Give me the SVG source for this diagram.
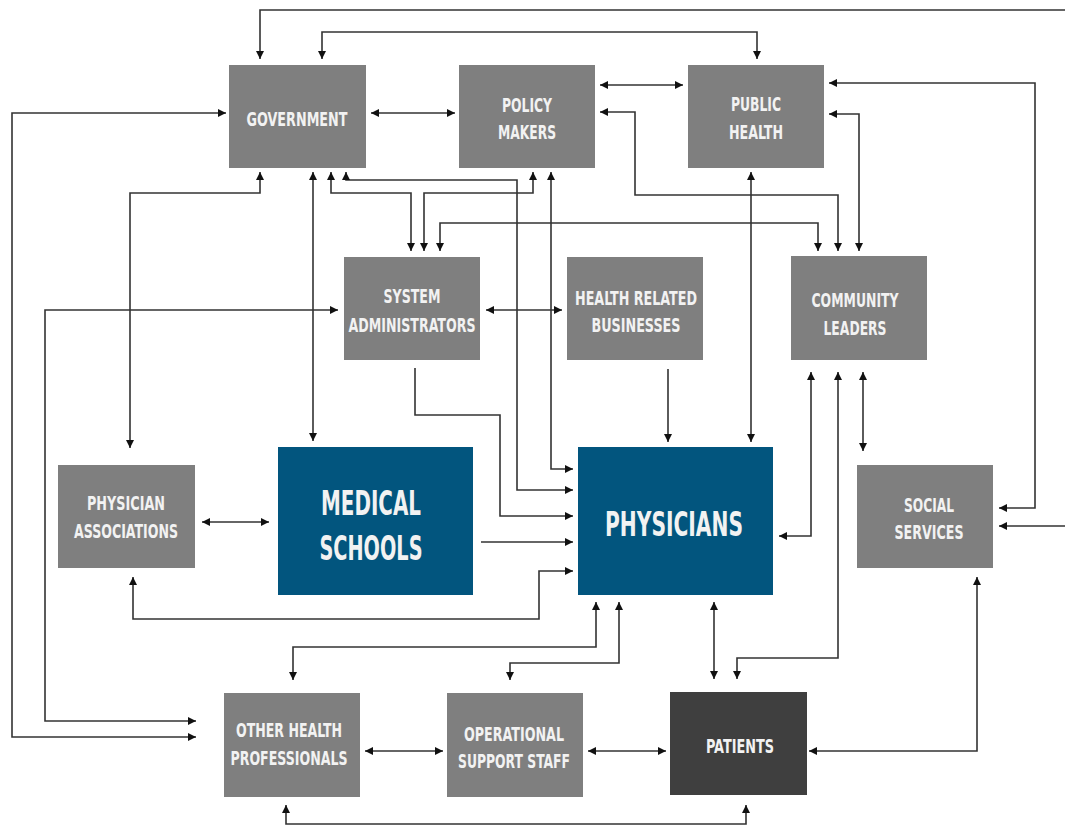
<svg xmlns="http://www.w3.org/2000/svg" width="1065" height="826" viewBox="0 0 1065 826">
<style>
.box{fill:#7f7f7f}
.blue{fill:#02557e}
.dark{fill:#3f3f3f}
.t{font-family:"DejaVu Sans Condensed","DejaVu Sans","Liberation Sans",sans-serif;font-weight:bold;font-size:20px;fill:#f2f2f2;text-anchor:middle}
.tb{font-size:34px}
.c{fill:none;stroke:#333;stroke-width:1.6}
</style>
<defs>
<marker id="a" viewBox="0 0 8 8" refX="8" refY="4" markerWidth="8" markerHeight="8" markerUnits="userSpaceOnUse" orient="auto-start-reverse">
<path d="M0,0 L8,4 L0,8 z" fill="#111"/>
</marker>
</defs>
<rect width="1065" height="826" fill="#fff"/>
<g id="connectors">
<path class="c" d="M999,526 H1072 V10 H260 V59" marker-start="url(#a)" marker-end="url(#a)"/>
<path class="c" d="M322,59 V32 H757 V59" marker-start="url(#a)" marker-end="url(#a)"/>
<path class="c" d="M371,113 H455" marker-start="url(#a)" marker-end="url(#a)"/>
<path class="c" d="M600,85 H683" marker-start="url(#a)" marker-end="url(#a)"/>
<path class="c" d="M600,112 H635 V195 H838 V251" marker-start="url(#a)" marker-end="url(#a)"/>
<path class="c" d="M829,83 H1035 V508 H999" marker-start="url(#a)" marker-end="url(#a)"/>
<path class="c" d="M829,114 H859 V251" marker-start="url(#a)" marker-end="url(#a)"/>
<path class="c" d="M260,172 V193 H130 V448" marker-start="url(#a)" marker-end="url(#a)"/>
<path class="c" d="M313,172 V441" marker-start="url(#a)" marker-end="url(#a)"/>
<path class="c" d="M331,172 V193 H411 V251" marker-start="url(#a)" marker-end="url(#a)"/>
<path class="c" d="M346,172 V180 H517 V490 H573" marker-start="url(#a)" marker-end="url(#a)"/>
<path class="c" d="M533,172 V193 H424 V251" marker-start="url(#a)" marker-end="url(#a)"/>
<path class="c" d="M551,172 V469 H573" marker-start="url(#a)" marker-end="url(#a)"/>
<path class="c" d="M440,251 V223 H818 V251" marker-start="url(#a)" marker-end="url(#a)"/>
<path class="c" d="M226,113 H12 V737 H196" marker-start="url(#a)" marker-end="url(#a)"/>
<path class="c" d="M338,310 H45 V721 H196" marker-start="url(#a)" marker-end="url(#a)"/>
<path class="c" d="M486,310 H562" marker-start="url(#a)" marker-end="url(#a)"/>
<path class="c" d="M415,368 V415 H500 V516 H573" marker-end="url(#a)"/>
<path class="c" d="M668,369 V442" marker-end="url(#a)"/>
<path class="c" d="M751,172 V442" marker-start="url(#a)" marker-end="url(#a)"/>
<path class="c" d="M202,522 H269" marker-start="url(#a)" marker-end="url(#a)"/>
<path class="c" d="M481,542 H573" marker-end="url(#a)"/>
<path class="c" d="M133,577 V619 H539 V571 H573" marker-start="url(#a)" marker-end="url(#a)"/>
<path class="c" d="M811,372 V536 H779" marker-start="url(#a)" marker-end="url(#a)"/>
<path class="c" d="M838,372 V658 H737 V679" marker-start="url(#a)" marker-end="url(#a)"/>
<path class="c" d="M863,372 V451" marker-start="url(#a)" marker-end="url(#a)"/>
<path class="c" d="M596,602 V647 H293 V680" marker-start="url(#a)" marker-end="url(#a)"/>
<path class="c" d="M619,602 V663 H510 V680" marker-start="url(#a)" marker-end="url(#a)"/>
<path class="c" d="M714,602 V679" marker-start="url(#a)" marker-end="url(#a)"/>
<path class="c" d="M365,751 H443" marker-start="url(#a)" marker-end="url(#a)"/>
<path class="c" d="M588,751 H666" marker-start="url(#a)" marker-end="url(#a)"/>
<path class="c" d="M977,577 V751 H809" marker-start="url(#a)" marker-end="url(#a)"/>
<path class="c" d="M286,805 V824 H746 V805" marker-start="url(#a)" marker-end="url(#a)"/>
</g>
<g id="government"><rect class="box" x="229" y="65" width="137" height="103"/><text class="t" x="297" y="126" textLength="101" lengthAdjust="spacingAndGlyphs">GOVERNMENT</text></g>
<g id="policy-makers"><rect class="box" x="459" y="65" width="136" height="103"/><text class="t" x="527" y="112" textLength="50" lengthAdjust="spacingAndGlyphs">POLICY</text><text class="t" x="527" y="139" textLength="58" lengthAdjust="spacingAndGlyphs">MAKERS</text></g>
<g id="public-health"><rect class="box" x="688" y="65" width="136" height="103"/><text class="t" x="756" y="111" textLength="50" lengthAdjust="spacingAndGlyphs">PUBLIC</text><text class="t" x="756" y="139" textLength="54" lengthAdjust="spacingAndGlyphs">HEALTH</text></g>
<g id="system-administrators"><rect class="box" x="344" y="257" width="136" height="103"/><text class="t" x="412" y="303" textLength="57" lengthAdjust="spacingAndGlyphs">SYSTEM</text><text class="t" x="412" y="332" textLength="127" lengthAdjust="spacingAndGlyphs">ADMINISTRATORS</text></g>
<g id="health-related-businesses"><rect class="box" x="567" y="257" width="136" height="103"/><text class="t" x="636" y="305" textLength="122" lengthAdjust="spacingAndGlyphs">HEALTH RELATED</text><text class="t" x="636" y="332" textLength="89" lengthAdjust="spacingAndGlyphs">BUSINESSES</text></g>
<g id="community-leaders"><rect class="box" x="791" y="256" width="136" height="104"/><text class="t" x="855" y="307" textLength="87" lengthAdjust="spacingAndGlyphs">COMMUNITY</text><text class="t" x="855" y="335" textLength="63" lengthAdjust="spacingAndGlyphs">LEADERS</text></g>
<g id="social-services"><rect class="box" x="857" y="465" width="136" height="103"/><text class="t" x="929" y="512" textLength="50" lengthAdjust="spacingAndGlyphs">SOCIAL</text><text class="t" x="929" y="539" textLength="69" lengthAdjust="spacingAndGlyphs">SERVICES</text></g>
<g id="physician-associations"><rect class="box" x="58" y="465" width="137" height="103"/><text class="t" x="126" y="510" textLength="78" lengthAdjust="spacingAndGlyphs">PHYSICIAN</text><text class="t" x="126" y="538" textLength="104" lengthAdjust="spacingAndGlyphs">ASSOCIATIONS</text></g>
<g id="medical-schools"><rect class="blue" x="278" y="447" width="195" height="148"/><text class="t tb" x="371" y="515" textLength="100" lengthAdjust="spacingAndGlyphs">MEDICAL</text><text class="t tb" x="371" y="560" textLength="103" lengthAdjust="spacingAndGlyphs">SCHOOLS</text></g>
<g id="physicians"><rect class="blue" x="578" y="447" width="195" height="148"/><text class="t tb" x="674" y="536" textLength="138" lengthAdjust="spacingAndGlyphs">PHYSICIANS</text></g>
<g id="other-health-professionals"><rect class="box" x="224" y="693" width="136" height="104"/><text class="t" x="289" y="737" textLength="106" lengthAdjust="spacingAndGlyphs">OTHER HEALTH</text><text class="t" x="289" y="765" textLength="117" lengthAdjust="spacingAndGlyphs">PROFESSIONALS</text></g>
<g id="operational-support-staff"><rect class="box" x="447" y="693" width="136" height="104"/><text class="t" x="514" y="741" textLength="100" lengthAdjust="spacingAndGlyphs">OPERATIONAL</text><text class="t" x="514" y="768" textLength="112" lengthAdjust="spacingAndGlyphs">SUPPORT STAFF</text></g>
<g id="patients"><rect class="dark" x="670" y="692" width="137" height="103"/><text class="t" x="740" y="753" textLength="68" lengthAdjust="spacingAndGlyphs">PATIENTS</text></g>
</svg>
